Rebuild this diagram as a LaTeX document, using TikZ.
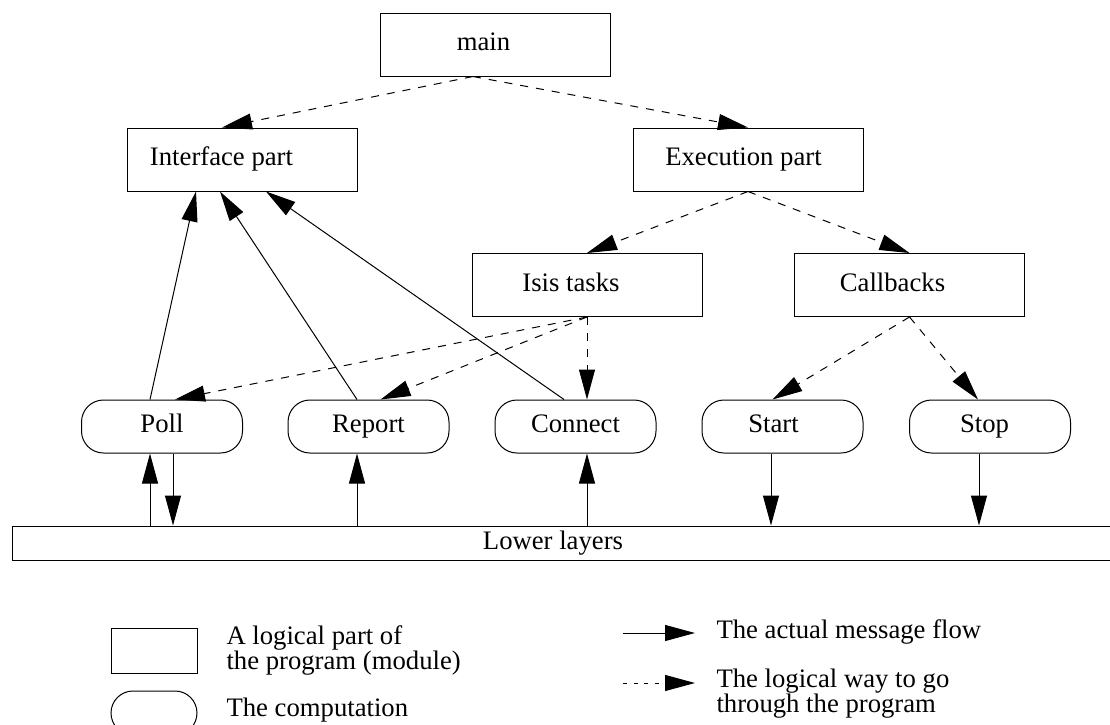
\documentclass[tikz,border=0pt]{standalone}
\usepackage{fontspec}
\setmainfont{Liberation Serif}
\usepackage{tikz}
\usetikzlibrary{arrows.meta}

\begin{document}
\begin{tikzpicture}[x=0.5pt, y=-0.5pt, line width=0.5pt,
        font=\fontsize{13.35}{16}\selectfont,
        part/.style={rectangle, draw, minimum width=115pt, minimum height=31.5pt, inner sep=0pt, text height=9pt, text depth=3pt},
        task/.style={rectangle, draw, rounded corners=11pt, minimum width=80.5pt, minimum height=26.5pt, inner sep=0pt, text height=9pt, text depth=3pt},
        txt/.style={anchor=west, inner sep=0pt, align=left},
        msg/.style={-{Triangle[length=15pt, width=8pt]}},
        way/.style={msg, dash pattern=on 4pt off 4pt}]
        \useasboundingbox (0, 0) rectangle (1110, 724);

        % modules (trailing space pushes the text left as in the drawing)
        \draw (495, 44.5) node(main)[part]{main\hspace*{11.5pt}};
        \draw (242, 159.5) node(iface)[part]{Interface part\hspace*{20.5pt}};
        \draw (748, 159.5) node(exec)[part]{Execution part\hspace*{4.5pt}};
        \draw (587, 285) node(isis)[part]{Isis tasks\hspace*{16pt}};
        \draw (909.5, 285) node(callb)[part]{Callbacks\hspace*{17pt}};

        % computations
        \draw (162, 426.5) node(poll)[task]{Poll};
        \draw (368.5, 426.5) node(report)[task]{Report};
        \draw (575.5, 426.5) node(connect)[task]{Connect};
        \draw (782.5, 426.5) node(start)[task]{Start\hspace*{9pt}};
        \draw (990, 426.5) node(stop)[task]{Stop\hspace*{5.5pt}};

        \draw (562, 543) node(lower)[rectangle, draw, minimum width=550pt, minimum height=17pt, inner sep=0pt, text height=9pt, text depth=3pt]{Lower layers\hspace*{9pt}};

        % logical way
        \draw[way] ([xshift=-11pt]main.south) -- ([xshift=-10pt]iface.north);
        \draw[way] ([xshift=-11pt]main.south) -- (exec.north);
        \draw[way] (exec.south) -- (isis.north);
        \draw[way] (exec.south) -- (callb.north);
        \draw[way] (isis.south) -- ([xshift=6.5pt]poll.north);
        \draw[way] (isis.south) -- ([xshift=6pt]report.north);
        \draw[way] (isis.south) -- (isis.south |- connect.north);
        \draw[way] (callb.south) -- ([xshift=-5pt]start.north);
        \draw[way] (callb.south) -- ([xshift=-6pt]stop.north);

        % message flow
        \draw[msg] ([xshift=-6pt]poll.north) -- ([xshift=-23pt]iface.south);
        \draw[msg] ([xshift=-5.75pt]report.north) -- ([xshift=-11pt]iface.south);
        \draw[msg] ([xshift=-5.75pt]connect.north) -- ([xshift=12pt]iface.south);
        \draw[msg] ([xshift=-6pt]poll.south |- lower.north) -- ([xshift=-6pt]poll.south);
        \draw[msg] ([xshift=5.5pt]poll.south) -- ([xshift=5.5pt]poll.south |- lower.north);
        \draw[msg] ([xshift=-5.75pt]report.south |- lower.north) -- ([xshift=-5.75pt]report.south);
        \draw[msg] ([xshift=5.75pt]connect.south |- lower.north) -- ([xshift=5.75pt]connect.south);
        \draw[msg] ([xshift=-5.75pt]start.south) -- ([xshift=-5.75pt]start.south |- lower.north);
        \draw[msg] ([xshift=-5.5pt]stop.south) -- ([xshift=-5.5pt]stop.south |- lower.north);

        % legend
        \draw (154, 650.5) node(legpart)[part, minimum width=43pt, minimum height=22.5pt]{};
        \draw (154, 713) node(legtask)[task, minimum width=43pt, minimum height=22pt]{};
        \draw (226, 650) node(legparttxt)[txt]{A logical part of\\[-3.5pt]the program (module)};
        \draw (226, 710) node(legtasktxt)[txt]{The computation};

        \coordinate (msgA) at (623, 633);
        \coordinate (msgB) at (695, 633);
        \coordinate (wayA) at (623, 683);
        \coordinate (wayB) at (695, 683);
        \draw[msg] (msgA) -- (msgB);
        \draw[msg, dash pattern=on 2pt off 3.3pt] (wayA) -- (wayB);
        \draw (716, 632) node(msgtxt)[txt]{The actual message flow};
        \draw (716, 693.5) node(waytxt)[txt]{The logical way to go\\[-3.5pt]through the program};
\end{tikzpicture}
\end{document}
